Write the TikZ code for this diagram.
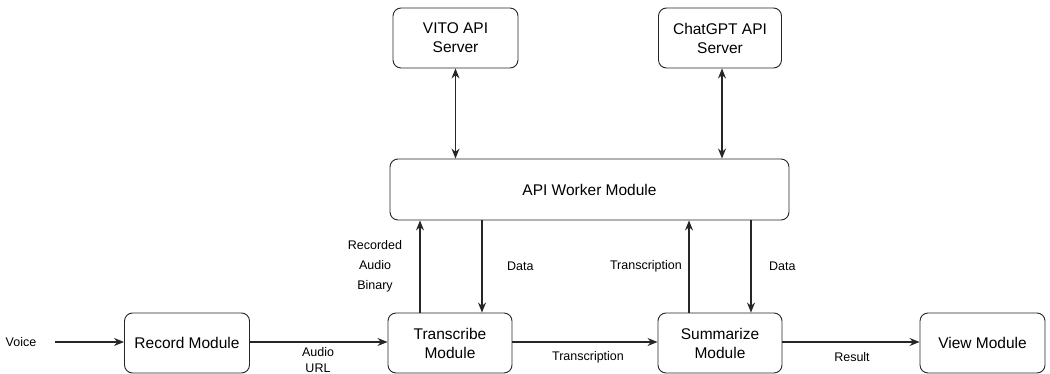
\documentclass[tikz,border=0pt]{standalone}
\usepackage{fontspec}
\setmainfont{Liberation Sans}
\usetikzlibrary{arrows.meta}
\begin{document}
\begin{tikzpicture}[x=1pt,y=-1pt,
  box/.style={draw=black!85,line width=0.9pt,rounded corners=8pt,align=center,font=\fontsize{15.5}{19}\selectfont,inner sep=0pt},
  lbl/.style={font=\fontsize{12.5}{20}\selectfont,align=center,inner sep=0pt},
  arr/.style={line width=1.2pt,draw=black!85,-{Stealth[length=10pt,width=8pt]}},
  darr/.style={line width=1.2pt,draw=black!85,{Stealth[length=10pt,width=8pt]}-{Stealth[length=10pt,width=8pt]}}]
\useasboundingbox (0,0) rectangle (1050,374);
\node[box,minimum width=125pt,minimum height=60pt] (vito) at (455.5,38) {VITO API\\Server};
\node[box,minimum width=123pt,minimum height=60pt] (gpt) at (720,38) {ChatGPT API\\Server};
\node[box,minimum width=399pt,minimum height=61pt] (worker) at (589.5,189.5) {API Worker Module};
\node[box,minimum width=125pt,minimum height=60pt] (rec) at (187,343) {Record Module};
\node[box,minimum width=124pt,minimum height=60pt] (tra) at (450,343) {Transcribe\\Module};
\node[box,minimum width=124pt,minimum height=60pt] (sum) at (720,343) {Summarize\\Module};
\node[box,minimum width=125pt,minimum height=60pt] (view) at (982.5,343) {View Module};
\node[lbl] (voice) at (21,342) {Voice};
\coordinate (vstart) at (55,342);
\draw[arr] (vstart) -- (rec.west |- vstart);
\draw[arr] (rec.east |- vstart) -- (tra.west |- vstart);
\draw[arr] (tra.east |- vstart) -- (sum.west |- vstart);
\draw[arr] (sum.east |- vstart) -- (view.west |- vstart);
\draw[darr] (vito.south) -- (vito.south |- worker.north);
\draw[darr] ([xshift=2pt]gpt.south) -- ([xshift=2pt]gpt.south |- worker.north);
\coordinate (t1) at (420,0);
\coordinate (t2) at (482,0);
\coordinate (s1) at (689,0);
\coordinate (s2) at (751,0);
\draw[arr] (tra.north -| t1) -- (worker.south -| t1);
\draw[arr] (worker.south -| t2) -- (tra.north -| t2);
\draw[arr] (sum.north -| s1) -- (worker.south -| s1);
\draw[arr] (worker.south -| s2) -- (sum.north -| s2);
\node[lbl] (lrab) at (375,266) {Recorded\\Audio\\Binary};
\node[lbl,anchor=west] (ldata1) at (507,266) {Data};
\node[lbl,anchor=east] (ltr1) at (682,266) {Transcription};
\node[lbl,anchor=west] (ldata2) at (769,266) {Data};
\node[lbl,font=\fontsize{12.5}{15.5}\selectfont] (laudio) at (318,360) {Audio\\URL};
\node[lbl] (ltr2) at (588,357) {Transcription};
\node[lbl] (lres) at (852,357) {Result};
\end{tikzpicture}
\end{document}
